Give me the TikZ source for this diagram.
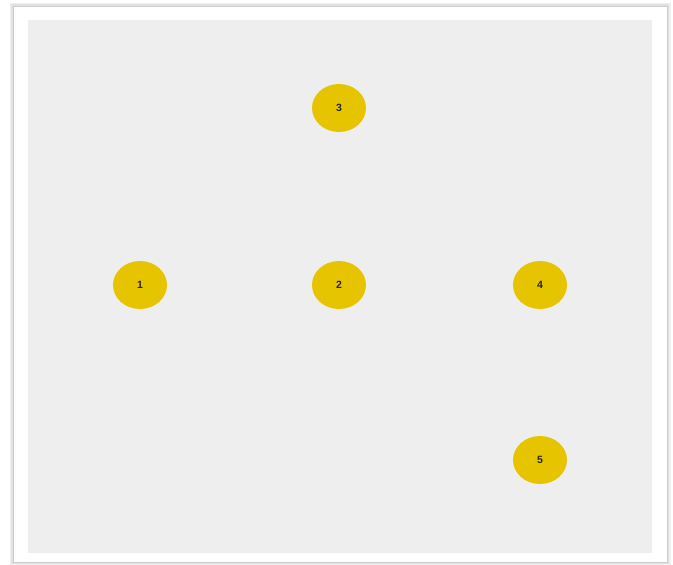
\documentclass[tikz,border=0pt]{standalone}
\usepackage{fontspec}
\setmainfont{Liberation Sans}
\usetikzlibrary{
  shapes.geometric,
  positioning
}
\definecolor{nodecolor}{RGB}{230, 196, 0}
\definecolor{panelcolor}{RGB}{238, 238, 238}
\definecolor{framecolor}{RGB}{205, 205, 205}
\definecolor{shadowcolor}{RGB}{225, 225, 225}
\tikzset{
vertex/.style={
  ellipse,
  fill=nodecolor,
  minimum width=54pt,
  minimum height=48pt,
  inner sep=0pt,
  font=\bfseries\fontsize{10.5}{12}\selectfont,
  text=black!85
},
frame/.style={
  fill=white,
  draw=framecolor,
  line width=1pt
},
panel/.style={
  fill=panelcolor
}
}

\begin{document}
\begin{tikzpicture}[x=1pt,y=-1pt]
  \useasboundingbox (0,0) rectangle (673,565);
  % shadow and frame
  \fill[shadowcolor!50] (10,3) rectangle (671,565);
  \fill[shadowcolor] (11,4) rectangle (669,564);
  \draw[frame] (13,6) rectangle (667,562);
  \fill[panel] (28,20) rectangle (652,553);
  % nodes
  \node[vertex] (n1) at (140,285) {1};
  \node[vertex] (n2) at (339,285) {2};
  \node[vertex] (n3) at (339,108) {3};
  \node[vertex] (n4) at (540,285) {4};
  \node[vertex] (n5) at (540,460) {5};
\end{tikzpicture}
\end{document}
